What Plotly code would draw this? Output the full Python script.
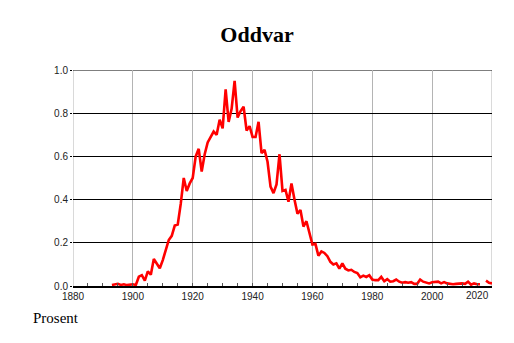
import plotly.graph_objects as go

years = list(range(1893, 2021))
values = [
    0.005, 0.007, 0.010, 0.005, 0.008, 0.004, 0.005, 0.008,            # 1893-1900
    0.005, 0.043, 0.050, 0.025, 0.068, 0.052, 0.125, 0.105, 0.082, 0.120,  # 1901-1910
    0.165, 0.213, 0.232, 0.280, 0.285, 0.380, 0.500, 0.440, 0.475, 0.500,  # 1911-1920
    0.600, 0.635, 0.530, 0.610, 0.665, 0.690, 0.715, 0.700, 0.770, 0.730,  # 1921-1930
    0.910, 0.760, 0.820, 0.950, 0.780, 0.810, 0.830, 0.720, 0.740, 0.690,  # 1931-1940
    0.690, 0.760, 0.615, 0.630, 0.575, 0.460, 0.430, 0.470, 0.610, 0.440,  # 1941-1950
    0.445, 0.390, 0.475, 0.400, 0.335, 0.352, 0.275, 0.300, 0.238, 0.192,  # 1951-1960
    0.195, 0.140, 0.160, 0.153, 0.138, 0.112, 0.100, 0.105, 0.080, 0.105,  # 1961-1970
    0.080, 0.072, 0.075, 0.065, 0.060, 0.040, 0.048, 0.042, 0.050, 0.030,  # 1971-1980
    0.027, 0.027, 0.042, 0.022, 0.032, 0.020, 0.022, 0.030, 0.020, 0.015,  # 1981-1990
    0.018, 0.015, 0.018, 0.010, 0.010, 0.030, 0.020, 0.016, 0.012, 0.017,  # 1991-2000
    0.018, 0.020, 0.012, 0.018, 0.012, 0.010, 0.008, 0.010, 0.012, 0.012,  # 2001-2010
    0.010, 0.020, 0.006, 0.012, 0.008, 0.008, None, 0.025, 0.015, 0.012,  # 2011-2020
]
x_ticks = [1880, 1900, 1920, 1940, 1960, 1980, 2000]
y_ticks = [0.0, 0.2, 0.4, 0.6, 0.8, 1.0]

fig = go.Figure()
fig.add_trace(go.Scatter(
    x=years, y=values, mode="lines",
    line=dict(color="#ff0000", width=2.6),
    connectgaps=False, hoverinfo="x+y",
))

tick_font = dict(family="Liberation Sans, Arial, sans-serif", size=10, color="#222222")
grid_gray = "#b4b4b4"

fig.update_layout(
    width=514, height=343,
    margin=dict(l=73, r=22, t=70, b=57),
    paper_bgcolor="white", plot_bgcolor="white",
    showlegend=False,
    title=dict(text="<b>Oddvar</b>", x=0.5, xanchor="center", y=0.9, yanchor="middle",
               font=dict(family="Liberation Serif, Times New Roman, serif", size=22, color="black")),
    xaxis=dict(
        range=[1880, 2020], tickvals=x_ticks, ticktext=[str(v) for v in x_ticks],
        showgrid=True, gridcolor=grid_gray, gridwidth=1,
        ticks="inside", ticklen=3, tickcolor="#555555",
        minor=dict(dtick=5, tick0=1880, ticks="inside", ticklen=3, tickcolor="#555555", showgrid=False),
        showline=True, linecolor="black", linewidth=1.5,
        zeroline=False, tickfont=tick_font, fixedrange=True,
    ),
    yaxis=dict(
        range=[0, 1.0], tickvals=y_ticks, tickformat=".1f",
        showgrid=True, gridcolor="black", gridwidth=1,
        ticks="outside", ticklen=2, tickcolor="black",
        showline=False, zeroline=False, tickfont=tick_font, fixedrange=True,
    ),
    annotations=[
        dict(text="2020", xref="x", yref="paper", x=2019.6, y=0, xanchor="right", yanchor="top",
             yshift=-2, showarrow=False, font=tick_font),
        dict(text="Prosent", xref="paper", yref="paper", x=-42/419, y=-32/216,
             xanchor="left", yanchor="middle", showarrow=False,
             font=dict(family="Liberation Serif, Times New Roman, serif", size=15, color="black")),
    ],
)
for xv in (1880, 2020):
    fig.add_shape(type="line", xref="x", yref="paper", x0=xv, x1=xv, y0=0, y1=1,
                  line=dict(color=grid_gray, width=1), layer="below")
fig.add_shape(type="line", xref="paper", yref="y", x0=0, x1=1, y0=1.0, y1=1.0,
              line=dict(color="black", width=1), layer="below")

fig.write_html("out.html", config={"displayModeBar": False},
               post_script="document.body.style.margin='0';document.body.style.padding='0';")
